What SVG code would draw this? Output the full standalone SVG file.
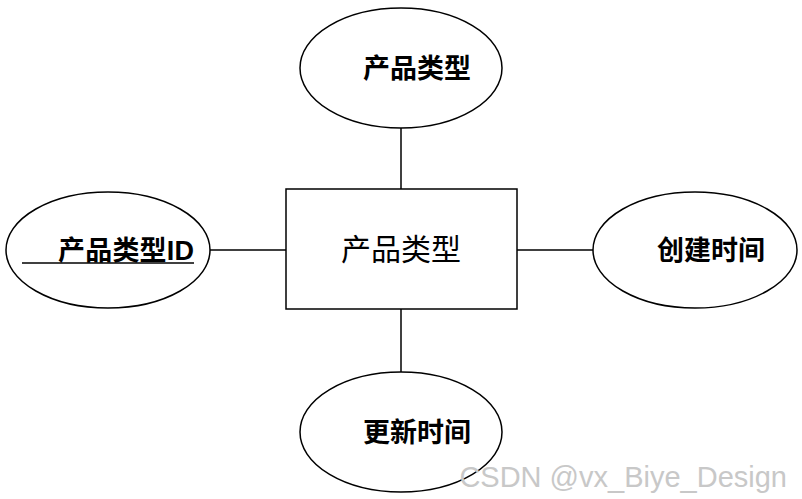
<svg xmlns="http://www.w3.org/2000/svg" width="802" height="499" viewBox="0 0 802 499">
<style>
.s{fill:#fff;stroke:#000;stroke-width:1.5}
.b{font-family:"Liberation Sans","Noto Sans CJK SC",sans-serif;font-size:27px;font-weight:bold;fill:#000}
.n{font-family:"Liberation Sans","Noto Sans CJK SC",sans-serif;font-size:30px;fill:#000}
line{stroke:#000;stroke-width:1.5}
</style>
<rect width="802" height="499" fill="#fff"/>
<g id="connectors">
<line x1="401" y1="128" x2="401" y2="189"/>
<line x1="210" y1="250" x2="286" y2="250"/>
<line x1="517" y1="250" x2="593" y2="250"/>
<line x1="401" y1="309" x2="401" y2="372"/>
</g>
<g id="entity"><rect class="s" x="286" y="189" width="231" height="120"/><text class="n" x="401" y="260" text-anchor="middle">产品类型</text></g>
<g id="attr-type"><ellipse class="s" cx="401" cy="68" rx="101" ry="60"/><text class="b" x="363" y="78">产品类型</text></g>
<g id="attr-id"><ellipse class="s" cx="108" cy="250" rx="102" ry="58"/><text class="b" x="58" y="260" textLength="136">产品类型ID</text><line x1="22" y1="263" x2="194" y2="263"/></g>
<g id="attr-create"><ellipse class="s" cx="695" cy="250" rx="102" ry="58"/><text class="b" x="657" y="260">创建时间</text></g>
<g id="attr-update"><ellipse class="s" cx="401" cy="432" rx="101" ry="60"/><text class="b" x="363" y="442">更新时间</text></g>
<text x="787" y="487" text-anchor="end" style="font-family:'Liberation Sans',sans-serif;font-size:29px;fill:#c8c8c8">CSDN @vx_Biye_Design</text>
</svg>
